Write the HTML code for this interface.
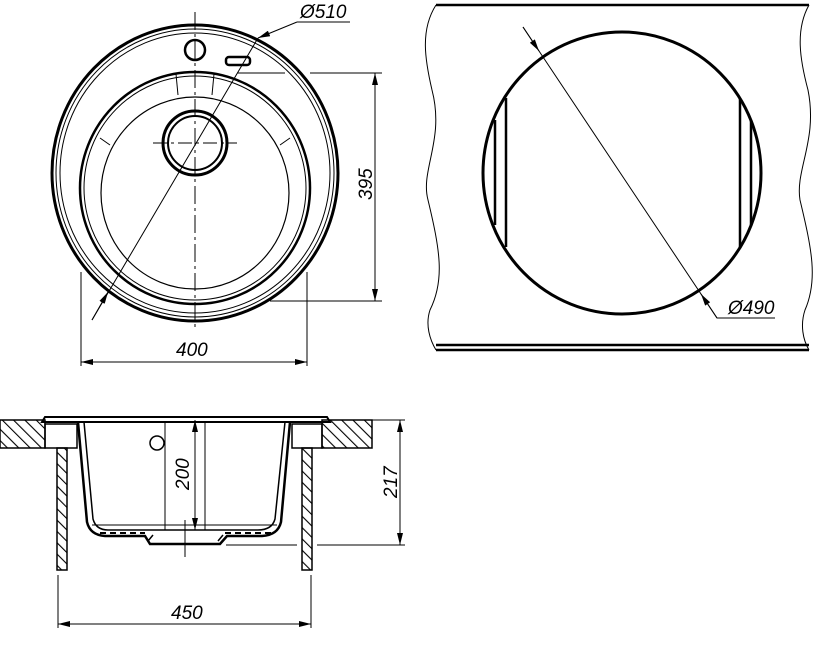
<!DOCTYPE html>
<html><head><meta charset="utf-8"><style>
html,body{margin:0;padding:0;background:#fff;width:835px;height:667px;overflow:hidden}
text{font-family:"Liberation Sans",sans-serif;font-style:italic;font-size:19px;fill:#000}
</style></head><body>
<svg width="835" height="667" viewBox="0 0 835 667" xmlns="http://www.w3.org/2000/svg">
<defs>
<marker id="a" viewBox="0 0 12 6" refX="12" refY="3" markerWidth="12" markerHeight="6" orient="auto-start-reverse" markerUnits="userSpaceOnUse"><path d="M0,0L12,3L0,6z" fill="#000"/></marker>
<pattern id="h" width="8" height="8" patternUnits="userSpaceOnUse" patternTransform="rotate(-45)"><line x1="0" y1="0" x2="0" y2="8" stroke="#000" stroke-width="2.2"/></pattern>
</defs>
<g fill="none" stroke="#000">
<ellipse cx="195" cy="173" rx="143" ry="148" stroke-width="3"/>
<ellipse cx="195" cy="173" rx="139" ry="144" stroke-width="1"/>
<ellipse cx="195" cy="173" rx="135" ry="140" stroke-width="1"/>
<ellipse cx="195" cy="188" rx="115" ry="116" stroke-width="2.5"/>
<ellipse cx="195" cy="188" rx="111" ry="112" stroke-width="1"/>
<ellipse cx="195" cy="193" rx="94" ry="96" stroke-width="1.2"/>
<path d="M176,74 L178,95 M214,74 L212,95 M100,138 L110,145 M290,138 L280,145" stroke-width="1"/>
<circle cx="195" cy="143" r="32" stroke-width="3"/>
<circle cx="195" cy="143" r="27" stroke-width="2"/>
<circle cx="195" cy="50" r="10" stroke-width="2.5"/>
<rect x="226" y="57" width="24" height="8" rx="3" stroke-width="2.5"/>
<path d="M195,12 V330" stroke-width="1" stroke-dasharray="18,4,3,4"/>
<path d="M153,143 H237" stroke-width="1" stroke-dasharray="14,4,3,4"/>
<path d="M92,320 L258,38 M297,22 H350" stroke-width="1"/>
<path d="M92,320 L108,292" stroke-width="1" marker-end="url(#a)"/>
<path d="M297,22 L258,38" stroke-width="1" marker-end="url(#a)"/>
<path d="M310,73 H382 M270,301 H382 M237,73 H285" stroke-width="1"/>
<path d="M375,73 V301" stroke-width="1" marker-start="url(#a)" marker-end="url(#a)"/>
<path d="M81,272 V366 M307,272 V366" stroke-width="1"/>
<path d="M81,362 H307" stroke-width="1" marker-start="url(#a)" marker-end="url(#a)"/>
<path d="M436,5 H809 M436,345 H809 M436,350 H809" stroke-width="2.5"/>
<path d="M436,5 C420,30 425,60 432,90 C445,140 420,170 428,200 C440,250 445,280 430,310 C425,325 430,340 436,350" stroke-width="1"/>
<path d="M809,5 C795,30 800,60 808,90 C818,140 795,170 800,200 C812,250 818,280 805,310 C800,325 803,340 809,350" stroke-width="1"/>
<ellipse cx="622" cy="173" rx="139" ry="141" stroke-width="3"/>
<path d="M506,98 V247 M495,120 V225 M740,98 V247 M751,120 V225" stroke-width="2.5"/>
<path d="M523,27 L717,318 H775" stroke-width="1"/>
<path d="M523,27 L539,51" stroke-width="1" marker-end="url(#a)"/>
<path d="M717,318 L701,294" stroke-width="1" marker-end="url(#a)"/>
<rect x="0" y="420" width="45" height="28" fill="url(#h)" stroke-width="1.5"/>
<rect x="45" y="424" width="32" height="24" stroke-width="1.5"/>
<rect x="322" y="420" width="50" height="28" fill="url(#h)" stroke-width="1.5"/>
<rect x="292" y="424" width="30" height="24" stroke-width="1.5"/>
<path d="M42,422 L45,417 H327 L330,422 Z" stroke-width="2"/>
<rect x="57" y="448" width="10" height="122" fill="url(#h)" stroke-width="1.5"/>
<rect x="302" y="448" width="10" height="122" fill="url(#h)" stroke-width="1.5"/>
<path d="M78,422 L87,522 Q90,535 105,536 L145,536 L150,544 H220 L227,536 H262 Q278,535 281,522 L290,422" stroke-width="2.5"/>
<path d="M84,422 L93,519 Q96,530 108,530 H258 Q272,530 275,519 L285,422" stroke-width="1.5"/>
<path d="M100,533 H145 M225,533 H272" stroke-width="2" stroke-dasharray="6,4"/>
<path d="M148,541 L153,535 M218,541 L223,535" stroke-width="1.5"/>
<path d="M92,525 H277" stroke-width="1"/>
<path d="M165,422 V530 M205,422 V530" stroke-width="1"/>
<path d="M185,520 V557" stroke-width="1"/>
<circle cx="157" cy="443" r="7" stroke-width="1.5"/>
<path d="M195,420 V530" stroke-width="1" marker-start="url(#a)" marker-end="url(#a)"/>
<path d="M372,420 H405 M226,545 H297 M317,545 H405" stroke-width="1"/>
<path d="M400,420 V545" stroke-width="1" marker-start="url(#a)" marker-end="url(#a)"/>
<path d="M58,575 V628 M311,575 V628" stroke-width="1"/>
<path d="M58,624 H311" stroke-width="1" marker-start="url(#a)" marker-end="url(#a)"/>
</g>
<text x="300" y="18">Ø510</text>
<text x="728" y="314">Ø490</text>
<text x="176" y="356">400</text>
<text x="171" y="619">450</text>
<text transform="translate(372,200) rotate(-90)">395</text>
<text transform="translate(189,490) rotate(-90)">200</text>
<text transform="translate(397,498) rotate(-90)">217</text>
</svg>
</body></html>
